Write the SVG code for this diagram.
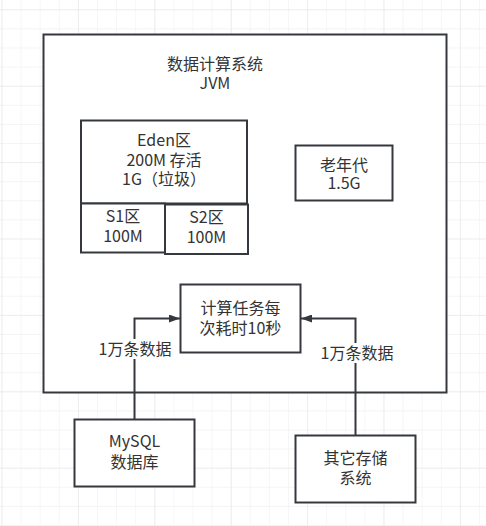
<svg xmlns="http://www.w3.org/2000/svg" width="486" height="526" viewBox="0 0 486 526">
<defs>
<style>
.box{fill:#ffffff;stroke:#35393e;stroke-width:2}
.t{font-family:"Noto Sans CJK SC","Noto Sans",sans-serif;font-size:16px;fill:#333333;text-anchor:middle}
.edge{fill:none;stroke:#35393e;stroke-width:2}
.lbl{fill:#ffffff}
</style>
<pattern id="minor" x="1.5" y="9.3" width="19.1" height="19.1" patternUnits="userSpaceOnUse">
<path d="M0 0H19.1M0 0V19.1" fill="none" stroke="#f1f1f1" stroke-width="1.2"/>
</pattern>
<pattern id="major" x="1.5" y="9.3" width="76.4" height="76.4" patternUnits="userSpaceOnUse">
<path d="M0 0H76.4M0 0V76.4" fill="none" stroke="#e6e6e6" stroke-width="1.2"/>
</pattern>
<marker id="arr" viewBox="0 0 10 10" refX="10" refY="5" markerWidth="11" markerHeight="8" markerUnits="userSpaceOnUse" orient="auto" preserveAspectRatio="none">
<path d="M0 0L10 5L0 10Z" fill="#35393e"/>
</marker>
</defs>
<rect width="486" height="526" fill="#ffffff"/>
<rect width="486" height="526" fill="url(#minor)"/>
<rect width="486" height="526" fill="url(#major)"/>

<g id="jvm">
<rect class="box" x="43.5" y="34.5" width="403" height="358"/>
<text class="t"><tspan x="215" y="70">数据计算系统</tspan><tspan x="215" y="89">JVM</tspan></text>
</g>

<g id="eden">
<rect class="box" x="81" y="120.5" width="166" height="83"/>
<text class="t"><tspan x="164" y="146">Eden区</tspan><tspan x="164" y="165.5">200M 存活</tspan><tspan x="164" y="185">1G（垃圾）</tspan></text>
</g>

<g id="s1">
<rect class="box" x="81" y="203.5" width="84" height="49"/>
<text class="t"><tspan x="123" y="221.5">S1区</tspan><tspan x="123" y="241.5">100M</tspan></text>
</g>

<g id="s2">
<rect class="box" x="165" y="204.5" width="83" height="49.5"/>
<text class="t"><tspan x="206.5" y="223">S2区</tspan><tspan x="206.5" y="243">100M</tspan></text>
</g>

<g id="old">
<rect class="box" x="295.5" y="145.5" width="97" height="55"/>
<text class="t"><tspan x="344" y="170.5">老年代</tspan><tspan x="344" y="189">1.5G</tspan></text>
</g>

<g id="task">
<rect class="box" x="180.5" y="284.5" width="120" height="68"/>
<text class="t"><tspan x="240.5" y="314">计算任务每</tspan><tspan x="240.5" y="334">次耗时10秒</tspan></text>
</g>

<g id="mysql">
<rect class="box" x="74.5" y="419.5" width="120" height="67"/>
<text class="t"><tspan x="134.5" y="447">MySQL</tspan><tspan x="134.5" y="468">数据库</tspan></text>
</g>

<g id="other">
<rect class="box" x="295.5" y="435.5" width="120" height="67"/>
<text class="t"><tspan x="355.5" y="464">其它存储</tspan><tspan x="355.5" y="484">系统</tspan></text>
</g>

<g id="connectors">
<path class="edge" d="M134.5 419V318.5H180" marker-end="url(#arr)"/>
<rect class="lbl" x="98" y="339" width="73" height="20"/>
<text class="t" x="135" y="354.5">1万条数据</text>
<path class="edge" d="M355.5 435V318.5H301" marker-end="url(#arr)"/>
<rect class="lbl" x="320" y="343" width="73" height="20"/>
<text class="t" x="357" y="358.5">1万条数据</text>
</g>
</svg>
